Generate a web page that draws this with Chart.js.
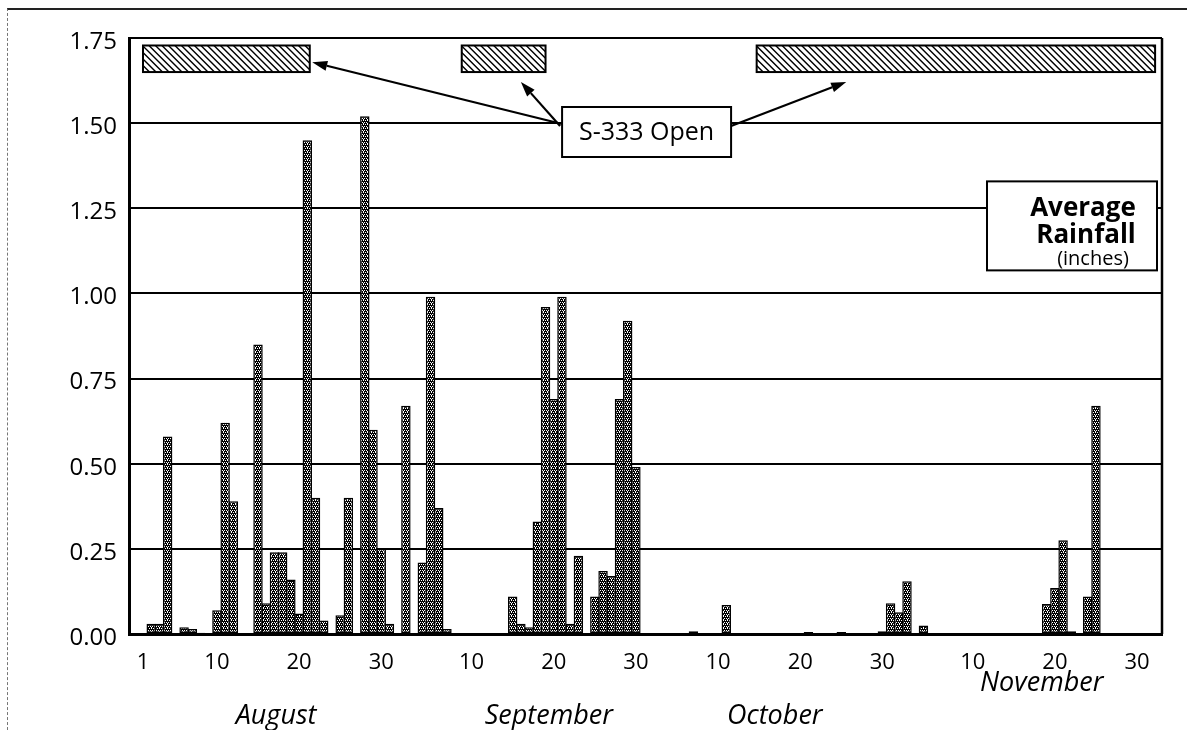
<!DOCTYPE html>
<html><head><meta charset="utf-8">
<script src="https://cdn.jsdelivr.net/npm/chart.js@4.4.1/dist/chart.umd.min.js"></script>
<style>
html,body{margin:0;padding:0;background:#fff;}
#wrap{position:relative;width:1187px;height:730px;overflow:hidden;}
#frame{position:absolute;left:7px;top:8px;width:1200px;height:740px;border-top:2px solid #222;border-left:1px dashed #777;pointer-events:none;}
canvas{position:absolute;left:0;top:0;}
</style></head><body>
<div id="wrap"><canvas id="c" width="1187" height="730"></canvas><div id="frame"></div></div>
<script>
// Daily average rainfall (inches)
const augRain = [0, 0.03, 0.03, 0.58, 0, 0.02, 0.015, 0.004, 0, 0.07, 0.62, 0.39, 0, 0, 0.85, 0.09,
  0.24, 0.24, 0.16, 0.06, 1.45, 0.40, 0.04, 0, 0.055, 0.40, 0, 1.52, 0.60, 0.25, 0.03];
const sepRain = [0, 0.67, 0, 0.21, 0.99, 0.37, 0.015, 0, 0, 0, 0, 0, 0, 0, 0.11,
  0.03, 0.02, 0.33, 0.96, 0.69, 0.99, 0.03, 0.23, 0, 0.11, 0.185, 0.17, 0.69, 0.92, 0.49];
const octRain = [0, 0, 0, 0, 0, 0, 0.008, 0, 0, 0, 0.085, 0, 0, 0, 0, 0,
  0, 0, 0, 0, 0.006, 0, 0, 0, 0.006, 0, 0, 0, 0, 0.008, 0.09];
const novRain = [0.064, 0.155, 0, 0.025, 0, 0, 0, 0, 0, 0, 0, 0, 0, 0, 0,
  0, 0, 0, 0.088, 0.135, 0.275, 0.008, 0, 0.11, 0.67, 0, 0, 0, 0, 0];

// x-axis ticks (day index from Aug 1) and their labels
const tickDays   = [0, 9, 19, 29, 40, 50, 60, 70, 80, 90, 101, 111, 121];
const tickLabels = ['1','10','20','30','10','20','30','10','20','30','10','20','30'];
const monthNames = ['August', 'September', 'October', 'November'];
const monthLabelDays = [16.2, 49.4, 76.9, 109.4];

// S-333 open periods (day index) drawn at top
const openStart = [0, 38.8, 74.7];
const openEnd   = [20.3, 49.0, 123.2];
const openLow = 1.65, openHigh = 1.728;

const FONT = "'Open Sans', 'Noto Sans', 'DejaVu Sans', sans-serif";

const allRain = augRain.concat(sepRain, octRain, novRain);
const barData = allRain.map((v, i) => ({x: i, y: v}));

const canvas = document.getElementById('c');
const ctx = canvas.getContext('2d');

function makeDots() {
  const p = document.createElement('canvas');
  p.width = 4; p.height = 4;
  const g = p.getContext('2d');
  g.fillStyle = '#000'; g.fillRect(0, 0, 4, 4);
  g.fillStyle = '#fff';
  [[1,0],[3,0],[0,2],[2,2],[3,3]].forEach(([x, y]) => g.fillRect(x, y, 1, 1));
  return ctx.createPattern(p, 'repeat');
}

function arrow(c, x1, y1, x2, y2) {
  const a = Math.atan2(y2 - y1, x2 - x1);
  const L = 15, W = 5;
  const bx = x2 - L * Math.cos(a), by = y2 - L * Math.sin(a);
  c.beginPath();
  c.moveTo(x1, y1); c.lineTo(bx, by);
  c.lineWidth = 2.2; c.strokeStyle = '#000'; c.stroke();
  c.beginPath();
  c.moveTo(x2, y2);
  c.lineTo(bx + W * Math.sin(a), by - W * Math.cos(a));
  c.lineTo(bx - W * Math.sin(a), by + W * Math.cos(a));
  c.closePath(); c.fillStyle = '#000'; c.fill();
}

const decor = {
  id: 'decor',
  afterDraw(chart) {
    const c = chart.ctx, xs = chart.scales.x, ys = chart.scales.y, ca = chart.chartArea;
    c.save();
    // right border
    c.beginPath(); c.moveTo(ca.right, ca.top); c.lineTo(ca.right, ca.bottom);
    c.lineWidth = 2.5; c.strokeStyle = '#000'; c.stroke();

    // S-333 open hatched bars
    const yT = ys.getPixelForValue(openHigh), yB = ys.getPixelForValue(openLow);
    for (let i = 0; i < openStart.length; i++) {
      const x0 = xs.getPixelForValue(openStart[i]), x1 = xs.getPixelForValue(openEnd[i]);
      c.save();
      c.beginPath(); c.rect(x0, yT, x1 - x0, yB - yT); c.fillStyle = '#fff'; c.fill(); c.clip();
      c.beginPath();
      const h = yB - yT;
      for (let x = x0 - h; x < x1 + h; x += 6.5) { c.moveTo(x, yT); c.lineTo(x + h, yB); }
      c.lineWidth = 1.4; c.strokeStyle = '#000'; c.stroke();
      c.restore();
      c.strokeStyle = '#000'; c.lineWidth = 2;
      c.strokeRect(x0, yT, x1 - x0, yB - yT);
    }

    // "S-333 Open" label box
    const bcx = xs.getPixelForValue(61.3), bcy = ys.getPixelForValue(1.474);
    const bw = 169, bh = 50;
    const bl = bcx - bw / 2, bt = bcy - bh / 2;
    arrow(c, bl, bt + 17, xs.getPixelForValue(20.6), ys.getPixelForValue(1.679));
    arrow(c, bl - 2, bt + 19, xs.getPixelForValue(46.0), ys.getPixelForValue(1.621));
    arrow(c, bl + bw, bt + 19, xs.getPixelForValue(85.6), ys.getPixelForValue(1.621));
    c.fillStyle = '#fff'; c.fillRect(bl, bt, bw, bh);
    c.lineWidth = 2; c.strokeStyle = '#000'; c.strokeRect(bl, bt, bw, bh);
    c.fillStyle = '#000'; c.font = '25px ' + FONT; c.textAlign = 'center'; c.textBaseline = 'middle';
    c.fillText('S-333 Open', bcx, bcy + 1);

    // "Average Rainfall (inches)" box
    const lr = ca.right - 5, lw = 170, lt = ys.getPixelForValue(1.329), lh = 89;
    const ll = lr - lw;
    c.fillStyle = '#fff'; c.fillRect(ll, lt, lw, lh);
    c.lineWidth = 2; c.strokeRect(ll, lt, lw, lh);
    c.fillStyle = '#000'; c.textAlign = 'center'; c.textBaseline = 'alphabetic';
    c.font = 'bold 26px ' + FONT;
    c.fillText('Average', ll + 96, lt + 35);
    c.fillText('Rainfall', ll + 99, lt + 62);
    c.font = '20px ' + FONT;
    c.fillText('(inches)', ll + 106, lt + 84);

    // month labels
    c.font = 'italic 27px ' + FONT; c.textBaseline = 'middle';
    for (let i = 0; i < monthNames.length; i++) {
      const yy = i === 3 ? ca.bottom + 49 : ca.bottom + 82;
      c.fillText(monthNames[i], xs.getPixelForValue(monthLabelDays[i]), yy);
    }
    c.restore();
  }
};

new Chart(ctx, {
  type: 'bar',
  data: {
    datasets: [{
      data: barData,
      backgroundColor: makeDots(),
      borderColor: '#000',
      borderWidth: 1.5,
      borderSkipped: false,
      barPercentage: 1.15,
      categoryPercentage: 1
    }]
  },
  options: {
    responsive: false,
    devicePixelRatio: 1,
    animation: false,
    layout: {padding: {top: 38, right: 25, left: 0, bottom: 0}},
    plugins: {legend: {display: false}, tooltip: {enabled: false}},
    scales: {
      x: {
        type: 'linear',
        min: -1.704, max: 124.04,
        offset: false,
        grid: {display: false, drawTicks: false, offset: false},
        border: {display: true, color: '#000', width: 3},
        afterBuildTicks: s => { s.ticks = tickDays.map(v => ({value: v})); },
        afterFit: s => { s.height = 96; },
        ticks: {
          autoSkip: false, maxRotation: 0, padding: 16,
          color: '#000', font: {family: FONT, size: 22},
          callback: (v, i) => tickLabels[i]
        }
      },
      y: {
        min: 0, max: 1.75,
        afterFit: s => { s.width = 129; },
        grid: {color: '#000', lineWidth: 2, drawTicks: false},
        border: {display: true, color: '#000', width: 3},
        ticks: {
          stepSize: 0.25, padding: 12, labelOffset: 4,
          color: '#000', font: {family: FONT, size: 24},
          callback: v => Number(v).toFixed(2)
        }
      }
    }
  },
  plugins: [decor]
});
</script>
</body></html>
